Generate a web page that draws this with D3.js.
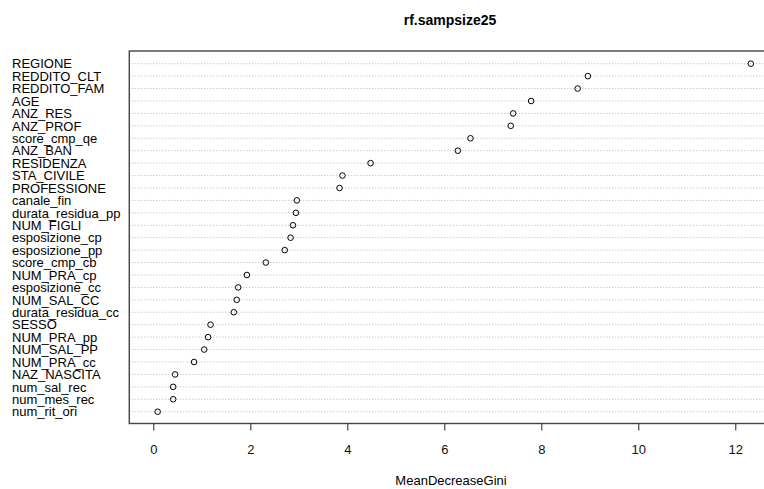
<!DOCTYPE html>
<html>
<head>
<meta charset="utf-8">
<script src="https://cdn.jsdelivr.net/npm/d3@7"></script>
<style>
  html, body { margin: 0; padding: 0; background: #fff; }
  svg { display: block; font-family: "Liberation Sans", Arial, sans-serif; }
</style>
</head>
<body>
<svg id="chart" width="764" height="489"></svg>
<script>
const title = "rf.sampsize25";
const xLabel = "MeanDecreaseGini";
const variables = [
  "REGIONE", "REDDITO_CLT", "REDDITO_FAM", "AGE", "ANZ_RES", "ANZ_PROF",
  "score_cmp_qe", "ANZ_BAN", "RESIDENZA", "STA_CIVILE", "PROFESSIONE",
  "canale_fin", "durata_residua_pp", "NUM_FIGLI", "esposizione_cp",
  "esposizione_pp", "score_cmp_cb", "NUM_PRA_cp", "esposizione_cc",
  "NUM_SAL_CC", "durata_residua_cc", "SESSO", "NUM_PRA_pp", "NUM_SAL_PP",
  "NUM_PRA_cc", "NAZ_NASCITA", "num_sal_rec", "num_mes_rec", "num_rit_ori"
];
const importance = [
  12.32, 8.96, 8.75, 7.79, 7.42, 7.37,
  6.54, 6.28, 4.48, 3.90, 3.84,
  2.96, 2.94, 2.88, 2.83,
  2.71, 2.32, 1.93, 1.75,
  1.72, 1.66, 1.18, 1.13, 1.05,
  0.84, 0.45, 0.41, 0.41, 0.09
];
const xTicks = [0, 2, 4, 6, 8, 10, 12];
const xDomain = [-0.495, 12.74];

const svg = d3.select("#chart");

const x = d3.scaleLinear().domain([0, 12]).range([153.3, 735.3]);
const boxLeft = x(xDomain[0]);
const boxRight = x(xDomain[1]);
const boxTop = 51;
const boxBottom = 423.5;

const y = d3.scalePoint().domain(variables).range([63.7, 411.7]);

// grid lines (dotted)
svg.append("g").selectAll("line")
  .data(variables)
  .join("line")
  .attr("x1", boxLeft)
  .attr("x2", boxRight)
  .attr("y1", d => y(d))
  .attr("y2", d => y(d))
  .attr("stroke", "#b4b4b4")
  .attr("stroke-width", 1)
  .attr("stroke-dasharray", "1,2");

// box
svg.append("rect")
  .attr("x", boxLeft)
  .attr("y", boxTop)
  .attr("width", boxRight - boxLeft)
  .attr("height", boxBottom - boxTop)
  .attr("fill", "none")
  .attr("stroke", "#444")
  .attr("stroke-width", 1.4);

// points
svg.append("g").selectAll("circle")
  .data(variables.map((v, i) => ({ v, val: importance[i] })))
  .join("circle")
  .attr("cx", d => x(d.val))
  .attr("cy", d => y(d.v))
  .attr("r", 2.8)
  .attr("fill", "none")
  .attr("stroke", "#000")
  .attr("stroke-width", 1);

// labels
svg.append("g").selectAll("text")
  .data(variables)
  .join("text")
  .attr("x", 12)
  .attr("y", d => y(d))
  .attr("dy", "0.36em")
  .attr("font-size", 13)
  .attr("fill", "#000")
  .text(d => d);

// x axis
const axis = d3.axisBottom(x).tickValues(xTicks).tickSize(7).tickPadding(14)
  .tickFormat(d3.format("d"));
const ax = svg.append("g")
  .attr("transform", `translate(0,${boxBottom})`)
  .call(axis);
ax.select(".domain").remove();
ax.selectAll(".tick line").attr("stroke", "#222");
ax.selectAll(".tick text")
  .attr("font-size", 13)
  .attr("font-family", "Liberation Sans, Arial, sans-serif")
  .attr("fill", "#111");

// title
svg.append("text")
  .attr("x", 450)
  .attr("y", 25)
  .attr("text-anchor", "middle")
  .attr("font-size", 14)
  .attr("font-weight", "bold")
  .text(title);

// x label
svg.append("text")
  .attr("x", 451)
  .attr("y", 485)
  .attr("text-anchor", "middle")
  .attr("font-size", 13)
  .text(xLabel);
</script>
</body>
</html>
